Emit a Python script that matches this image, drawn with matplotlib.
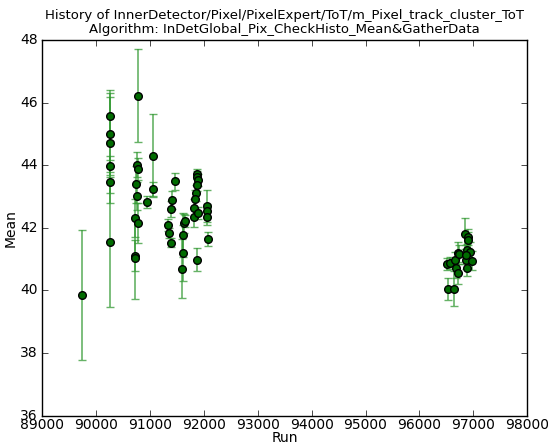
import matplotlib
matplotlib.use("Agg")
import matplotlib.pyplot as plt

# run numbers, mean values and errors
runs = [89741,
        90259, 90259, 90259, 90259, 90259, 90259,
        90783, 90754, 90783, 90741, 90754, 90722, 90783, 90728, 90728,
        90944, 91061, 91061,
        91463, 91402, 91389, 91339, 91357, 91383,
        91587, 91606, 91617, 91635, 91648,
        91876, 91876, 91885, 91867, 91852, 91839, 91826, 91826, 91893, 91876,
        92050, 92050, 92050, 92080,
        96529, 96636, 96518, 96561, 96654, 96686, 96710, 96716, 96729,
        96847, 96903, 96910, 96884, 96935, 96860, 96978, 96892, 96873]
means = [39.86,
         45.58, 44.99, 44.70, 43.98, 43.48, 41.55,
         46.22, 44.01, 43.87, 43.39, 43.03, 42.31, 42.15, 41.11, 41.03,
         42.82, 44.30, 43.24,
         43.49, 42.89, 42.60, 42.09, 41.83, 41.53,
         40.70, 41.19, 41.78, 42.15, 42.22,
         43.72, 43.62, 43.53, 43.37, 43.11, 42.92, 42.62, 42.34, 42.47, 40.98,
         42.70, 42.55, 42.36, 41.64,
         40.04, 40.06, 40.85, 40.87, 40.98, 40.71, 40.55, 41.21, 41.16,
         41.81, 41.70, 41.62, 41.28, 41.24, 40.98, 40.95, 40.71, 41.14]
errors = [2.07,
          0.82, 1.2, 1.6, 0.3, 0.69, 2.09,
          1.49, 0.4, 0.35, 0.6, 0.45, 0.6, 0.65, 0.5, 1.3,
          0.2, 1.33, 0.22,
          0.27, 0.3, 0.25, 0.2, 0.15, 0.15,
          0.95, 0.9, 0.7, 0.3, 0.2,
          0.15, 0.2, 0.2, 0.2, 0.25, 0.3, 0.3, 0.3, 0.2, 0.37,
          0.5, 0.2, 0.27, 0.23,
          0.36, 0.56, 0.2, 0.2, 0.25, 0.3, 0.35, 0.35, 0.3,
          0.5, 0.25, 0.25, 0.2, 0.3, 0.3, 0.3, 0.25, 0.3]

plt.style.use("classic")

fig = plt.figure(figsize=(5.48, 4.45), dpi=100, facecolor="white")
ax = fig.add_axes([0.077, 0.066, 0.885, 0.844])

ax.errorbar(runs, means, yerr=errors, fmt="o", color="green",
            ecolor=(0.2, 0.6, 0.2, 0.75), elinewidth=1.2, capsize=3,
            mfc=(0, 0.42, 0), mec="black", ms=5.5, mew=1)

ax.set_xlim(89000, 98000)
ax.set_ylim(36, 48)
ax.set_xticks(range(89000, 98001, 1000))
ax.set_yticks(range(36, 49, 2))
ax.tick_params(labelsize=10)
ax.tick_params(axis="y", pad=3)
ax.tick_params(axis="x", pad=2)
ax.set_xlabel("Run", fontsize=10, labelpad=-1)
ax.set_ylabel("Mean", fontsize=10, labelpad=2)
ax.set_title("History of InnerDetector/Pixel/PixelExpert/ToT/m_Pixel_track_cluster_ToT\n"
             "Algorithm: InDetGlobal_Pix_CheckHisto_Mean&GatherData",
             fontsize=9.5, linespacing=1.1)

fig.savefig("out.png", dpi=100, facecolor="white")
